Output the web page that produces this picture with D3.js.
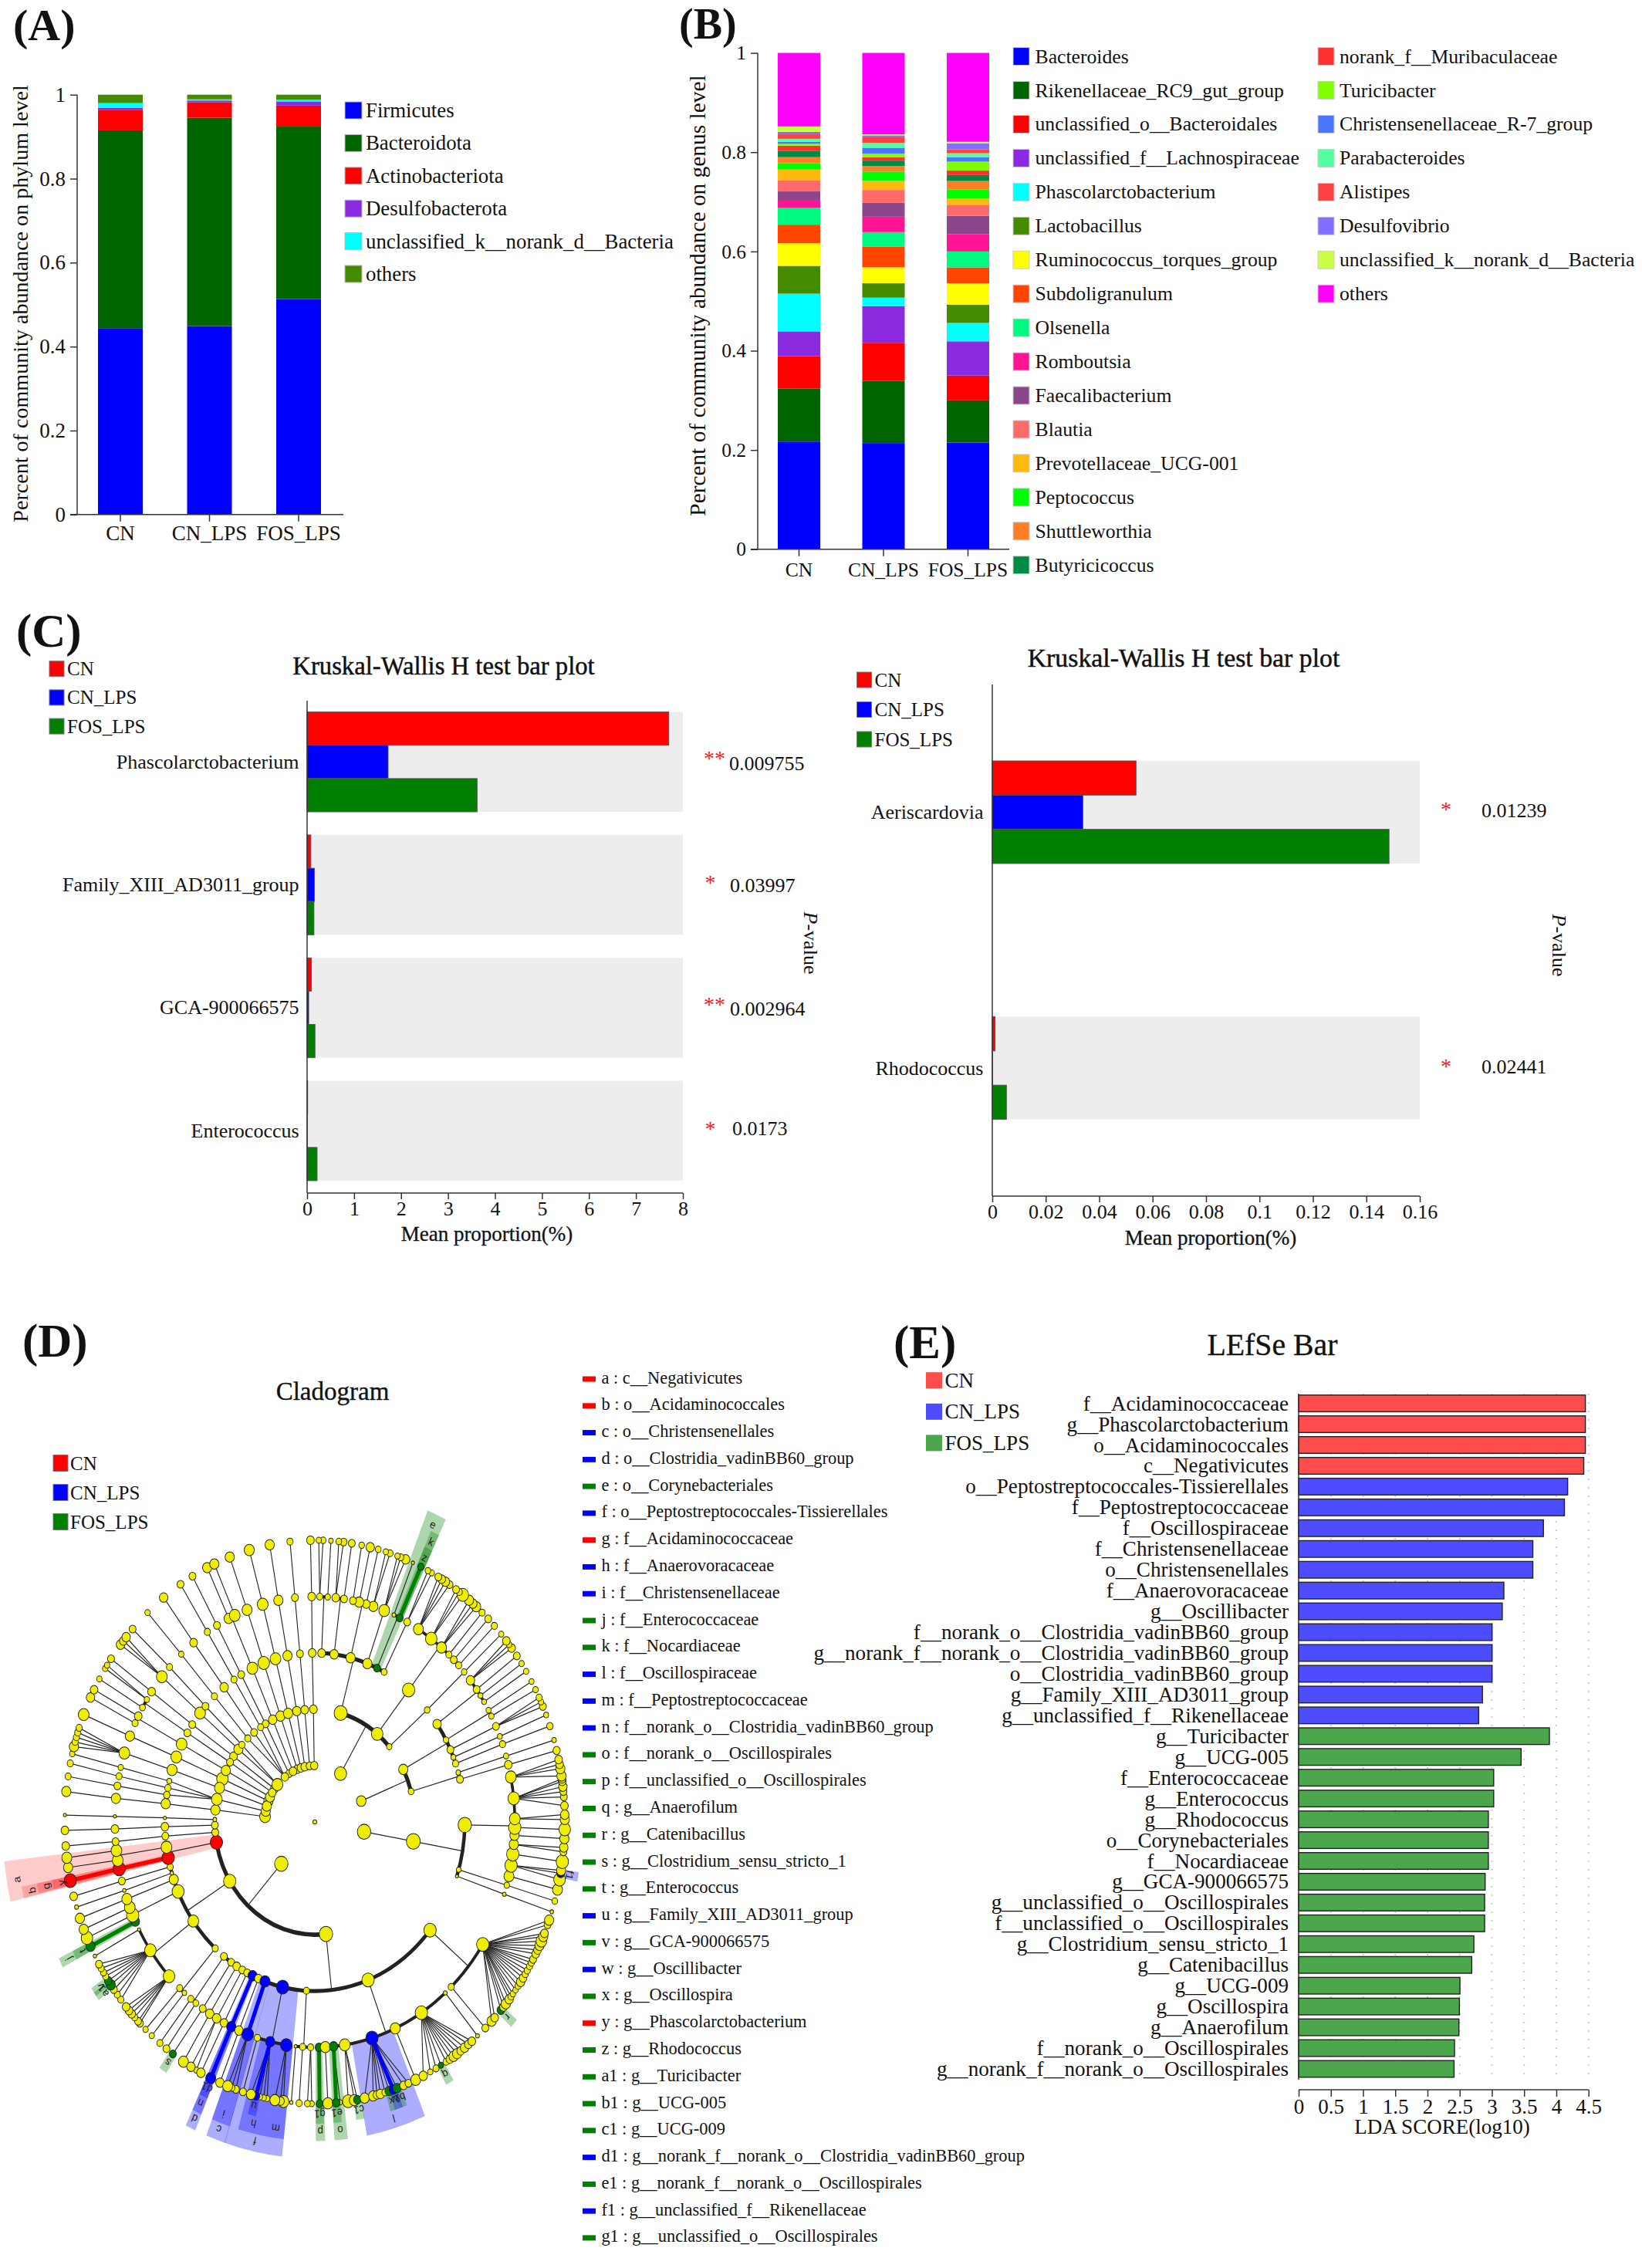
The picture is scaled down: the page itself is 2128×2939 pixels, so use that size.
<!DOCTYPE html>
<html><head><meta charset="utf-8"><style>
html,body{margin:0;padding:0;background:#fff}
svg{display:block}
text{font-family:"Liberation Serif","Times New Roman",serif;fill:#111}
.axis path{display:none}
.axis line{stroke:#333;stroke-width:1.5}
.axis text{fill:#111}
</style>
<script src="https://cdnjs.cloudflare.com/ajax/libs/d3/7.8.5/d3.min.js"></script>
</head><body><svg id="c" width="2128" height="2939" viewBox="0 0 2128 2939"></svg>
<script>
// ---------- Panel A ----------
const groups=["CN","CN_LPS","FOS_LPS"];
const phylumNames=["Firmicutes","Bacteroidota","Actinobacteriota","Desulfobacterota","unclassified_k__norank_d__Bacteria","others"];
const phylumColors=["#0000ff","#006400","#ff0000","#8a2be2","#00ffff","#458b00"];
const phylumCN=[.444,.471,.049,.005,.011,.020];
const phylumLPS=[.449,.496,.037,.004,.003,.011];
const phylumFOS=[.513,.411,.050,.010,.004,.012];
const phylumTicks=[0,.2,.4,.6,.8,1];
// ---------- Panel B ----------
const genusNames=["Bacteroides","Rikenellaceae_RC9_gut_group","unclassified_o__Bacteroidales","unclassified_f__Lachnospiraceae","Phascolarctobacterium","Lactobacillus","Ruminococcus_torques_group","Subdoligranulum","Olsenella","Romboutsia","Faecalibacterium","Blautia","Prevotellaceae_UCG-001","Peptococcus","Shuttleworthia","Butyricicoccus","norank_f__Muribaculaceae","Turicibacter","Christensenellaceae_R-7_group","Parabacteroides","Alistipes","Desulfovibrio","unclassified_k__norank_d__Bacteria","others"];
const genusColors=["#0000ff","#006400","#ff0000","#8a2be2","#00ffff","#458b00","#ffff00","#ff4500","#00fa7f","#ff1493","#8b4789","#ff6a6a","#ffb90f","#00ff00","#ff7f24","#008b45","#ff3030","#7fff00","#4876ff","#54ff9f","#ff4040","#836fff","#caff45","#ff00ff"];
const genusCN=[.217,.107,.065,.050,.076,.056,.046,.037,.034,.016,.017,.022,.022,.013,.012,.013,.010,.004,.004,.006,.009,.005,.011,.148];
const genusLPS=[.214,.125,.077,.074,.017,.029,.032,.042,.029,.031,.028,.026,.018,.019,.011,.011,.007,.007,.012,.010,.011,.004,.002,.164];
const genusFOS=[.215,.085,.050,.069,.037,.037,.043,.032,.032,.035,.037,.022,.013,.018,.017,.012,.009,.018,.009,.008,.008,.012,.003,.179];
// ---------- Panel C ----------
const kwGroupColors=["#ff0000","#0000ff","#008000"];
const kwLeftTaxa=["Phascolarctobacterium","Family_XIII_AD3011_group","GCA-900066575","Enterococcus"];
const kwLeftCN=[7.70,.08,.09,.012];
const kwLeftLPS=[1.725,.157,.034,.008];
const kwLeftFOS=[3.62,.146,.168,.213];
const kwLeftP=["0.009755","0.03997","0.002964","0.0173"];
const kwLeftStars=["**","*","**","*"];
const kwLeftTicks=[0,1,2,3,4,5,6,7,8];
const kwRightTaxa=["Aeriscardovia","Rhodococcus"];
const kwRightCN=[.0538,.001];
const kwRightLPS=[.0339,.0001];
const kwRightFOS=[.1485,.0053];
const kwRightP=["0.01239","0.02441"];
const kwRightStars=["*","*"];
const kwRightTicks=[0,.02,.04,.06,.08,.1,.12,.14,.16];
// ---------- Panel D legend ----------
const cladeTags=["a","b","c","d","e","f","g","h","i","j","k","l","m","n","o","p","q","r","s","t","u","v","w","x","y","z","a1","b1","c1","d1","e1","f1","g1"];
const cladeNames=["c__Negativicutes","o__Acidaminococcales","o__Christensenellales","o__Clostridia_vadinBB60_group","o__Corynebacteriales","o__Peptostreptococcales-Tissierellales","f__Acidaminococcaceae","f__Anaerovoracaceae","f__Christensenellaceae","f__Enterococcaceae","f__Nocardiaceae","f__Oscillospiraceae","f__Peptostreptococcaceae","f__norank_o__Clostridia_vadinBB60_group","f__norank_o__Oscillospirales","f__unclassified_o__Oscillospirales","g__Anaerofilum","g__Catenibacillus","g__Clostridium_sensu_stricto_1","g__Enterococcus","g__Family_XIII_AD3011_group","g__GCA-900066575","g__Oscillibacter","g__Oscillospira","g__Phascolarctobacterium","g__Rhodococcus","g__Turicibacter","g__UCG-005","g__UCG-009","g__norank_f__norank_o__Clostridia_vadinBB60_group","g__norank_f__norank_o__Oscillospirales","g__unclassified_f__Rikenellaceae","g__unclassified_o__Oscillospirales"];
const cladeGroups=[0,0,1,1,2,1,0,1,1,2,2,1,1,1,2,2,2,2,2,2,1,2,1,2,0,2,2,2,2,1,2,1,2];
// ---------- Panel D tree: n(angle in degrees clockwise from north, node radius, ...children) ----------
function n(){const a=[...arguments];let tag=null;if(typeof a[0]==="string")tag=a.shift();const ang=a.shift(),s=a.shift();return{tag,ang,s,kids:a}}
function F(){const o=n(...arguments);o.fan=true;return o}
function chain(angs,sizes){let c=null;for(let i=angs.length-1;i>=0;i--){c=c?n(angs[i],sizes[i],c):n(angs[i],sizes[i])}return c}
const phylumChains=[
 [[-.7,-.8,-1,-.9,-1],[4.8,5,5,5,5]],
 [[-6,-5.8,-5.7,-5.7,-5.7],[4.5,5,4.5,4.5,4]],
 [[-11.6,-10.4,-10.5,-10.5,-10.4],[5,5.5,6,6,6]],
 [[-16.1,-15.5,-15.2,-15.1,-15.2],[5,6,7,7,6.5]],
 [[-20.5,-20.1,-19.9,-19.8,-19.9],[5,6,7.5,6.5,6]],
 [[-30.9,-29.5,-29.4,-29.3,-29.3],[4.5,4.5,4.5,4.5,4.5]],
 [[-53.8,-54.4,-54.8,-54.7,-54.6],[5,5,4.5,5,4.5]],
 [[-68.2,-67.5,-67.4,-67.6,-67.6],[6,7.5,7,6,7]],
 [[-84.5,-83.9,-83.8,-84,-83.8],[7,6,6,6,6]]
];
const cladeTopLeft=[
 n(-25.9,5,n(-24.9,5.5,n(-24.6,7,n(-23.6,7,n(-23.7,6)),n(-25.5,6,n(-25.5,6))))),
 F(-36.8,5,chain([-32.8,-32.6,-32.5,-32.5],[4,4,4,4.5]),chain([-37.4,-37.2,-37.3,-37.2],[4.5,5.5,5,5.5]),chain([-42.1,-42,-41.9,-42],[4,4,3.5,3.5])),
 F(-48.4,7,chain([-46.8,-46.8,-46.6,-46.8],[4,4.5,4,4.5]),n(-49.8,6,n(-49.9,7,n(-49.9,7,n(-49,5.5),n(-50,5),n(-51,5.5))))),
 n(-58.5,5,n(-58,4.5,n(-58.2,4.5,n(-57.1,3.5,n(-56.2,3.5),n(-57,3.5)),n(-59.5,3.8,n(-59.5,3.5))))),
 n(-63.7,6,n(-62.8,6,n(-62.6,7,n(-62,5,n(-62,5)),n(-64,4,n(-63.8,5.5))))),
 n(-73.6,6,n(-72.4,6.5,n(-72.1,6.5,n(-72.2,7,n(-70.5,4),n(-71.5,4),n(-72.5,4),n(-73.5,4),n(-74.5,6))))),
 n(-79,6,F(-78.4,7,chain([-76,-76,-76],[3.2,3.5,3.5]),chain([-78.4,-78.3,-78],[4,4,4]),chain([-80.8,-80.8,-80.7],[4.2,4.5,4])))
];
const cladeP1=n(31,7.8,
 n(15,8.5,
  n(2.6,5,n(1.4,4,n(.9,3.5),n(1.9,3.8)),n(3.7,3.6,n(3.7,3))),
  n(7.4,5.5,n(6,5,n(5.5,3.8),n(6.6,4.5)),n(8.4,4.5,n(8.5,4.5))),
  n(13.8,6,n(11,4.5,n(10.8,3.7)),n(12.8,6,n(12.8,5.5)),n(14.9,5,n(14.7,3.8)),n(17,6,n(16.5,3.5),n(17.5,4))),
  n(20.5,6,n(20.3,7,n(19.3,3.5),n(20.1,4),n(21.3,5.5))),
  n("e",24.5,4.5,n(23.3,2.5,n(23.1,2)),n("k",25.1,4.5,n("z",25.1,4.2))),
  n(27.5,3.8,n(27.5,4.5,n(26.9,3.7),n(27.9,3.5)))),
 n(38.6,7.5,n(38.7,8,
  n(31.2,6.5,n(29.6,4.5),n(30.5,5),n(31.5,5.5),n(32.6,4.5)),
  n(35.6,7.5,n(34.4,4.5),n(35.3,4),n(36.3,7.5)),
  n(39.3,6.5,n(38.1,6),n(39.2,5.5),n(40.2,6)),
  n(42.1,4,n(42,4)),n(44,4.5,n(43.9,4.5)),n(46,4,n(45.9,4)))),
 n(48.1,3.5,n(48.5,3.7,n(48.3,3.6,n(48.2,3.5)))));
const cladeP2=n(68.2,6.2,
 n(62.2,6,
  n(54.6,5.5,n(51.1,5.5,n(50,5),n(51,3.5),n(51.9,5)),n(54,4.5,n(53.9,4.5)),n(55.9,3.2,n(55.8,3.5)),n(57.8,3.2,n(57.7,3.5))),
  n(61,3.5,n(60.3,3.3,n(60.1,3.3)),n(62,3.5,n(62,3.6))),
  n(64.7,4.5,n(64.9,4.5,n(63.8,4),n(64.8,3.5),n(65.8,4.5))),
  n(67.5,3.2,n(67.7,3.2,n(67.7,3.2))),
  n(69.8,4,n(69.8,4,n(70.1,4.2)))),
 n(74.3,3.8,n(73,3,n(73,3.4,n(73.1,3))),n(75.4,4.5,n(75.3,5,n(75.3,4.7)))));
const cladeP3=n(100,8.7,n(99.9,9,
 n(91,8.7,
  n(78.5,7,n(77.2,5),n(78.2,5),n(79.1,6),n(80.6,6)),
  n(84,7.5,n(81.2,5),n(81.7,5),n(82.8,5.5),n(83.8,4.5),n(84.9,4.5),n(86.7,5)),
  n(89.2,7,n(88.5,5.5),n(89.5,6)),
  n(91.4,8,n(91.5,7.5)),n(93.4,6,n(93.4,6)),
  n(95.7,6,n(95.2,5.5),n(96.1,4.5)),n(98.2,8,n(98.1,8)),
  n(101.1,8,n(99.9,6),n("f1",100.5,5),n(101.8,7.5)),n(103.9,6.5,n(103.9,6.5))),
 n(106.4,3,n(106.3,3.6,n(106.3,3.7))),
 n(108.7,2,n(108.7,2.4,n(108.6,2.3)))));
const cladeFirmicutesSmall=[
 n(-88.8,2.5,n(-88.6,2,n(-88.6,2,n(-88.6,2)))),
 n(-91.6,4.5,n(-91.6,5,n(-91.8,5,n(-91.7,5)))),
 n(-95.3,4.5,n(-94.8,4.5,n(-95,4.5,n(-94.9,5)))),
 n("a",-100.4,8,n(-98.6,7,n(-97.3,7,n(-97.3,6.5)),n(-99.8,7,n(-99.3,6))),n("b",-102.2,8,n("g",-102,8,n("y",-102,8))))
];
const cladeBacilli=n(-121.7,8,
 n(-105.4,4,n(-105.2,4.5,n(-105.3,5))),
 n(-107.6,2.2,n(-107.7,2.2,n(-107.6,2.5))),
 n(-109.9,6,n(-110,6.5,n(-110,6))),
 n(-114.3,7.8,n(-112.3,7,n(-112.4,6)),n(-114.4,8,n(-114.3,7.5)),n("j",-116.2,5.5,n("t",-116.2,6))),
 n(-125.9,7,n(-118.5,2,n(-118.4,2.2)),
  n(-124.7,7.5,n(-120.3,4.5),n(-121.3,4),n(-122.3,4),n(-123.2,4),n("v",-124.3,5),n("a1",-125.3,6),n(-126.5,4.5),n(-127.8,4),n(-129.1,4)),
  n(-133.2,7.5,n(-131,5),n(-132,5),n(-132.9,5),n(-133.9,4),n(-135,4.5),n(-135.6,4.5))),
 n(-138.4,4,n(-137.5,4,n(-137.4,3.5)),n(-139.3,3,n(-139.3,3.5))));
const cladeClostridia=n(-186.4,8.7,
 n(-230.2,8,
  n(122.9,8,n(110.4,6),n(111.4,4.5),n(113.3,5),n(114,6),n(115,7),n(116,6),n(117,5),n(117.9,5),n(119.2,4.5),n(120,4),n(120.8,4),n(121.8,4),n(122.7,4),n(123.6,5),n(124.6,5.5),n(125.6,4),n(126.6,3.5),n(127.6,3.5),n(128.3,4),n(129,5.5),n(130.2,6),n(131,5),n("r",131.9,5),n(134,5),n(135,6)),
  n(137,4,n(137,4.5))),
 n(-200.8,8,
  n(139.3,2.5,n(139.4,2.5)),
  n(147.8,8,n(141.1,5),n(142.1,5),n(143.2,5.5),n(144.3,5),n(145.3,6),n(146.3,6),n(147.3,5),n(148.3,4),n("q",149.7,3.5),n(151,4),n(152.5,3.5),n(154.3,5.5)),
  n(156.3,6.5,n(156.2,6.5)),
  n("l",163.4,8,n(158,4.5),n(159.2,5),n("b1",160.8,5.5),n("w",161.7,5.5),n("x",162.7,5.5),n(163.7,4),n(164.8,5.5),n(165.6,5),n(166.5,6),n(168.5,6)),
  n(171.4,7,n("c1",170.2,5),n(170.9,6.5),n(172.3,7.5)),
  n("o",174.6,5.5,n("e1",175.1,5),n(174.2,3)),
  n(177,6.5,n(177,6.5)),
  n("p",178.8,5,n("g1",178.9,4.5))),
 n(-176.8,4,n(185.5,2,n(185.4,2.2)),n(183.5,4,n(183.6,4)),n(181.2,4,n(181.7,3.8),n(180.7,3.5))),
 n("f",-167.6,8,n(-163.3,4,n(-163.3,4.5)),
  n("h",-167.1,6,n(-165.2,6),n("u",-166.4,5),n(-167.3,3.5),n(-168.2,3.5),n(-169,3.5)),
  n("m",-171.8,7.5,n(-170.8,6.5),n(-172.1,5),n(-172.8,7))),
 n("c",-160.6,6.5,n("i",-160.4,7.5,n(-159.6,6.5),n(-160.6,4),n(-161.6,4.5))),
 n(-157.9,5,n(-157.7,5.5,n(-157.7,5.5))),
 n("d",-155.5,6,n("n",-155.3,6,n("d1",-155.4,6.5))),
 n(-153.2,4.5,n(-153,5,n(-152.9,5.5))),
 n(-151.1,4.5,n(-150.6,5.5,n(-150.3,5.5),n(-151.7,3.5))),
 n(-148.6,5,n(-148.3,5.5,n(-148.3,6.5))),
 n(-146.1,4.5,n(-145.9,4.5,n("s",-145.4,4.5))),
 n(-142.7,4.5,n(-141.7,4,n(-141.7,4)),n(-143.5,3.8,n(-143.6,4.5))));
const cladeFirmicutes=n(-137.9,8.7,...cladeFirmicutesSmall,cladeBacilli,cladeClostridia);
const cladeRoot=n(0,2.5,cladeP1,cladeP2,cladeP3,cladeFirmicutes,...cladeTopLeft,...phylumChains.map(r=>chain(r[0],r[1])));
// ---------- Panel E ----------
const ldaGroupColors=["#ff4d4d","#4d4dff","#4ca64c"];
const ldaNames=["f__Acidaminococcaceae","g__Phascolarctobacterium","o__Acidaminococcales","c__Negativicutes","o__Peptostreptococcales-Tissierellales","f__Peptostreptococcaceae","f__Oscillospiraceae","f__Christensenellaceae","o__Christensenellales","f__Anaerovoracaceae","g__Oscillibacter","f__norank_o__Clostridia_vadinBB60_group","g__norank_f__norank_o__Clostridia_vadinBB60_group","o__Clostridia_vadinBB60_group","g__Family_XIII_AD3011_group","g__unclassified_f__Rikenellaceae","g__Turicibacter","g__UCG-005","f__Enterococcaceae","g__Enterococcus","g__Rhodococcus","o__Corynebacteriales","f__Nocardiaceae","g__GCA-900066575","g__unclassified_o__Oscillospirales","f__unclassified_o__Oscillospirales","g__Clostridium_sensu_stricto_1","g__Catenibacillus","g__UCG-009","g__Oscillospira","g__Anaerofilum","f__norank_o__Oscillospirales","g__norank_f__norank_o__Oscillospirales"];
const ldaScores=[4.451,4.451,4.451,4.426,4.176,4.126,3.80,3.636,3.636,3.186,3.161,3.003,3.003,3.003,2.853,2.795,3.893,3.453,3.028,3.028,2.945,2.945,2.945,2.895,2.887,2.887,2.72,2.687,2.504,2.496,2.488,2.42,2.413];
const ldaGroup=[0,0,0,0,1,1,1,1,1,1,1,1,1,1,1,1,2,2,2,2,2,2,2,2,2,2,2,2,2,2,2,2,2];
const ldaTicks=[0,.5,1,1.5,2,2.5,3,3.5,4,4.5];

const svg=d3.select("#c");
const fmt=d3.format("~g");
function T(x,y,s,size,o={}){
 const e=svg.append("text").attr("x",x).attr("y",y).attr("font-size",size).text(s);
 if(o.anchor)e.attr("text-anchor",o.anchor);
 if(o.central)e.attr("dominant-baseline","central");
 if(o.weight)e.attr("font-weight",o.weight);
 if(o.fill)e.style("fill",o.fill);
 if(o.heavy)e.attr("stroke","#111").attr("stroke-width",o.heavy);
 if(o.rot!==undefined)e.attr("transform",`rotate(${o.rot} ${x} ${y})`);
 return e;
}
function swatch(x,y,w,h,c,stroke){svg.append("rect").attr("x",x).attr("y",y-h/2).attr("width",w).attr("height",h).attr("fill",c).attr("stroke",stroke||"none").attr("stroke-width",1)}
function styleAxis(g,size){g.attr("class","axis").selectAll("text").attr("font-size",size)}

// Panel labels
[["(A)",17,52,58],["(B)",880,50,56],["(C)",21,838,61],["(D)",29,1758,61],["(E)",1158,1760,61]].forEach(d=>T(d[1],d[2],d[0],d[3],{weight:"bold"}));

// Stacked panels
function stacked(o){
 const rows=groups.map((g,i)=>{const r={g};o.names.forEach((k,j)=>r[k]=o.vals[i][j]);return r});
 const st=d3.stack().keys(o.names)(rows);
 const x=d3.scaleBand().domain(groups).range(o.xr).paddingInner(o.pad).paddingOuter(0);
 const y=d3.scaleLinear().domain([0,1]).range(o.yr);
 svg.append("g").selectAll("g").data(st).join("g").attr("fill",(d,i)=>o.colors[i])
  .selectAll("rect").data(d=>d).join("rect")
  .attr("x",d=>x(d.data.g)).attr("width",x.bandwidth())
  .attr("y",d=>y(Math.min(d[1],1))).attr("height",d=>Math.max(0,y(d[0])-y(Math.min(d[1],1))));
 const ax=svg.append("g").attr("transform",`translate(${o.ax},0)`).call(d3.axisLeft(y).tickValues(phylumTicks).tickFormat(fmt).tickSize(o.ts).tickPadding(6));
 styleAxis(ax,o.fs);
 svg.append("line").attr("x1",o.ax).attr("x2",o.ax).attr("y1",o.yr[1]).attr("y2",o.yr[0]).attr("stroke","#333").attr("stroke-width",1.5);
 const bx=svg.append("g").attr("transform",`translate(0,${o.yr[0]})`).call(d3.axisBottom(x).tickSize(o.ts).tickPadding(o.xp));
 styleAxis(bx,o.fs);
 svg.append("line").attr("x1",o.ax-o.ts).attr("x2",o.xe).attr("y1",o.yr[0]).attr("y2",o.yr[0]).attr("stroke","#333").attr("stroke-width",1.5);
}
stacked({names:phylumNames,vals:[phylumCN,phylumLPS,phylumFOS],colors:phylumColors,xr:[127,416],pad:.4978,yr:[666.8,122.7],ax:100,xe:445,ts:9,fs:27,xp:5});
T(26,393.5,"Percent of community abundance on phylum level",28.1,{anchor:"middle",central:true,rot:-90});
phylumNames.forEach((s,i)=>{const y=143+i*42.4;swatch(447,y,22,22,phylumColors[i],"#bbb");T(474,y,s,26.8,{central:true})});

stacked({names:genusNames,vals:[genusCN,genusLPS,genusFOS],colors:genusColors,xr:[1008,1282],pad:.4978,yr:[711.8,68.6],ax:982,xe:1308,ts:9,fs:25.5,xp:8});
T(904,383,"Percent of community abundance on genus level",29.4,{anchor:"middle",central:true,rot:-90});
genusNames.forEach((s,i)=>{const c=i<16?0:1,r=i<16?i:i-16,y=73.1+r*43.94,x=c?1708:1313;swatch(x,y,21,23,genusColors[i],"#ccc");T(c?1736:1341.5,y,s,25.7,{central:true})});

// Kruskal-Wallis panels
function kw(o){
 const x=d3.scaleLinear().domain(o.dom).range(o.xr);
 const y=d3.scaleBand().domain(o.taxa).range(o.yr).paddingInner(o.pad).paddingOuter(0);
 const yi=d3.scaleBand().domain(groups).range([0,y.bandwidth()]);
 svg.append("g").selectAll("rect").data(o.taxa).join("rect").attr("x",x(o.dom[0])).attr("width",x(o.dom[1])-x(o.dom[0])).attr("y",d=>y(d)).attr("height",y.bandwidth()).attr("fill","#ededed");
 o.taxa.forEach((t,i)=>{
  groups.forEach((g,j)=>{svg.append("rect").attr("x",x(0)).attr("y",y(t)+yi(g)).attr("width",x(o.vals[j][i])-x(0)).attr("height",yi.bandwidth()).attr("fill",kwGroupColors[j]).attr("stroke","#555").attr("stroke-width",.9)});
  T(o.labX,y(t)+y.bandwidth()*.5+o.labDy,t,26,{anchor:"end",central:true});
  T(o.starX[o.stars[i].length-1],o.starY[i],o.stars[i],28,{anchor:"middle",fill:"#ee1c25"});
  T(o.pX[i],o.pY[i],o.p[i],26,{central:true});
 });
 svg.append("line").attr("x1",x(0)).attr("x2",x(0)).attr("y1",o.top).attr("y2",o.base).attr("stroke","#333").attr("stroke-width",1.5);
 const ax=svg.append("g").attr("transform",`translate(0,${o.base})`).call(d3.axisBottom(x).tickValues(o.ticks).tickFormat(fmt).tickSize(8).tickPadding(3));
 styleAxis(ax,26);
 svg.append("line").attr("x1",o.xr[0]).attr("x2",o.xr[1]).attr("y1",o.base).attr("y2",o.base).attr("stroke","#333").attr("stroke-width",1.5);
 T(o.titleX,o.titleY,"Kruskal-Wallis H test bar plot",o.titleS,{anchor:"middle",heavy:.45});
 T(o.xlabX,o.xlabY,"Mean proportion(%)",27,{anchor:"middle",heavy:.3});
 const pv=T(o.pvX,o.pvY,"",26,{anchor:"middle",central:true,rot:90});
 pv.append("tspan").attr("font-style","italic").text("P");pv.append("tspan").text("-value");
 groups.forEach((g,i)=>{const ly=o.legY+i*o.legStep;swatch(o.legX,ly,19,20,kwGroupColors[i],"#777");T(o.legX+23,ly,g,25,{central:true})});
}
kw({dom:[0,8],xr:[398,885],yr:[922.6,1530],pad:.1877,taxa:kwLeftTaxa,vals:[kwLeftCN,kwLeftLPS,kwLeftFOS],ticks:kwLeftTicks,labX:387.6,labDy:0,stars:kwLeftStars,starX:[920.5,926],starY:[992,1153,1311,1472],p:kwLeftP,pX:[945,946,946,949],pY:[989.5,1147.5,1307,1462],top:908,base:1546,titleX:575,titleY:874,titleS:32.7,xlabX:631,xlabY:1608,pvX:1051,pvY:1222,legX:64,legY:866.7,legStep:37.2});
kw({dom:[0,.16],xr:[1286,1840],yr:[986,1450.5],pad:.5988,taxa:kwRightTaxa,vals:[kwRightCN,kwRightLPS,kwRightFOS],ticks:kwRightTicks,labX:1274.5,labDy:0,stars:kwRightStars,starX:[1874,1874],starY:[1058,1390.6],p:kwRightP,pX:[1920,1920],pY:[1050,1382],top:887,base:1550,titleX:1534,titleY:864,titleS:33.8,xlabX:1569,xlabY:1613,pvX:2021,pvY:1225,legX:1110.5,legY:881,legStep:38.5});

// Cladogram
T(431,1814,"Cladogram",33,{anchor:"middle",heavy:.35});
groups.forEach((g,i)=>{const y=1896+i*38;swatch(69,y,19,21,kwGroupColors[i],"#777");T(91,y,g,25,{central:true})});
const tagColor=t=>kwGroupColors[cladeGroups[cladeTags.indexOf(t)]];
const tagAlpha=t=>cladeGroups[cladeTags.indexOf(t)]===0?.2:.32;
const rad=d3.scaleLinear().domain([0,5]).range([0,324]);
const ang=d=>d*Math.PI/180;
const pol=(r,a)=>[r*Math.sin(ang(a)),-r*Math.cos(ang(a))];
const root=d3.hierarchy(cladeRoot,d=>d.kids);
const cg=svg.append("g").attr("transform","translate(408,2361) scale(1,1.127)");
const outer={2:405,3:387,4:367,5:347},labelR={2:392,3:375,4:356,5:336};
const tagged=root.descendants().filter(d=>d.data.tag).sort((a,b)=>a.depth-b.depth);
const wedge=d3.arc();
tagged.forEach(d=>{
 const as=d.descendants().map(x=>x.data.ang);
 const lo=d3.min(as),hi=d3.max(as);
 cg.append("path").attr("d",wedge({innerRadius:rad(d.depth),outerRadius:outer[d.depth],startAngle:ang(lo-.9),endAngle:ang(hi+.9)})).attr("fill",tagColor(d.data.tag)).attr("fill-opacity",tagAlpha(d.data.tag));
});
const arcWidth={2:5,3:4.5,4:3.6};
const linkLayer=cg.append("g"),thickLayer=cg.append("g");
function seg(layer,r1,a1,r2,a2,col,w){const p=pol(r1,a1),q=pol(r2,a2);layer.append("line").attr("x1",p[0]).attr("y1",p[1]).attr("x2",q[0]).attr("y2",q[1]).attr("stroke",col).attr("stroke-width",w)}
root.descendants().forEach(d=>{
 if(d.depth===0||!d.children)return;
 const kids=d.children,r=rad(d.depth),rk=rad(d.depth+1);
 if(d.data.fan||kids.length===1||d.depth===4){
  kids.forEach(k=>{
   if(d.data.tag&&k.data.tag&&tagColor(d.data.tag)===tagColor(k.data.tag)&&(kids.length===1||d.depth===4))seg(thickLayer,r,d.data.ang,rk,k.data.ang,tagColor(k.data.tag),5);
   else seg(linkLayer,r,d.data.ang,rk,k.data.ang,"#222",1.1);
  });
 }else{
  const as=kids.map(k=>k.data.ang);
  seg(linkLayer,r,d.data.ang,rk,d.data.ang,"#222",1.1);
  linkLayer.append("path").attr("d",wedge({innerRadius:rk-arcWidth[d.depth+1]/2,outerRadius:rk+arcWidth[d.depth+1]/2,startAngle:ang(d3.min(as)),endAngle:ang(d3.max(as))})).attr("fill","#222");
 }
});
cg.append("g").selectAll("circle").data(root.descendants().reverse()).join("circle")
 .attr("cx",d=>pol(rad(d.depth),d.data.ang)[0]).attr("cy",d=>pol(rad(d.depth),d.data.ang)[1])
 .attr("r",d=>d.data.s).attr("fill",d=>d.data.tag?tagColor(d.data.tag):"#f0ee00").attr("stroke","#222").attr("stroke-width",.9);
tagged.forEach(d=>{
 const as=d.descendants().map(x=>x.data.ang);
 const m=(d3.min(as)+d3.max(as))/2,p=pol(labelR[d.depth],m);
 cg.append("text").attr("transform",`translate(${p[0]},${p[1]}) rotate(${m})`).attr("text-anchor","middle").attr("dominant-baseline","central").attr("font-size",13).style("font-family","Liberation Sans").style("fill","#222").text(d.data.tag);
});
cladeTags.forEach((t,i)=>{
 const y=1787+i*34.78;
 swatch(755,y,17,7,kwGroupColors[cladeGroups[i]]);
 T(779.4,y-2,`${t} : ${cladeNames[i]}`,22.4,{central:true});
});

// LEfSe
T(1649,1756,"LEfSe Bar",39.8,{anchor:"middle",heavy:.35});
groups.forEach((g,i)=>{const y=1788.7+i*40.6;swatch(1200,y,21,21,ldaGroupColors[i]);T(1224.6,y,g,27,{central:true})});
const lx=d3.scaleLinear().domain([0,4.5]).range([1683,2058.7]);
const ly=d3.scaleBand().domain(ldaNames).range([1807.8,2691.8]).paddingInner(.1985).paddingOuter(0);
svg.append("g").selectAll("line").data(ldaTicks.slice(1)).join("line").attr("x1",d=>lx(d)).attr("x2",d=>lx(d)).attr("y1",1806).attr("y2",2695).attr("stroke","#ccc").attr("stroke-width",2).attr("stroke-dasharray","2,9");
svg.append("g").selectAll("rect").data(ldaNames).join("rect").attr("x",lx(0)).attr("y",d=>ly(d)).attr("width",(d,i)=>lx(ldaScores[i])-lx(0)).attr("height",ly.bandwidth()).attr("fill",(d,i)=>ldaGroupColors[ldaGroup[i]]).attr("stroke","#222").attr("stroke-width",1.4);
ldaNames.forEach(s=>T(1670,ly(s)+ly.bandwidth()/2,s,27.1,{anchor:"end",central:true}));
svg.append("line").attr("x1",lx(0)).attr("x2",lx(0)).attr("y1",1806).attr("y2",2695).attr("stroke","#333").attr("stroke-width",1.5);
const lax=svg.append("g").attr("transform","translate(0,2708)").call(d3.axisBottom(lx).tickValues(ldaTicks).tickFormat(fmt).tickSize(9).tickPadding(3));
styleAxis(lax,27);
svg.append("line").attr("x1",lx(0)).attr("x2",lx(4.5)).attr("y1",2708).attr("y2",2708).attr("stroke","#333").attr("stroke-width",1.5);
T(1869,2765,"LDA SCORE(log10)",27,{anchor:"middle"});
</script></body></html>
